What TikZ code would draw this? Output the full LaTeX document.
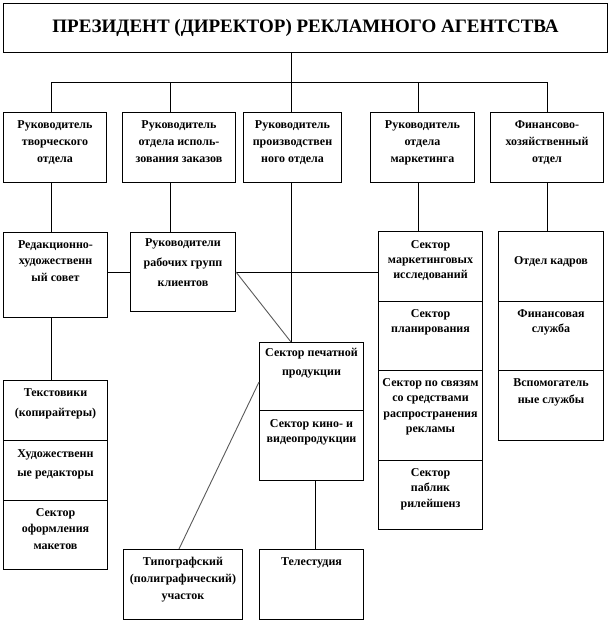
\documentclass[tikz,border=0pt]{standalone}
\usepackage{fontspec}
\setmainfont{Liberation Serif}
\tikzset{
  box/.style={draw, line width=1pt, inner sep=0pt, anchor=north west,
    font=\bfseries\fontsize{12}{16}\selectfont},
  conn/.style={line width=1pt},
  diag/.style={line width=0.9pt, black!65},
}
% #1 name, #2 x1, #3 y1, #4 x2, #5 y2, #6 top offset, #7 line skip, #8 text
\newcommand{\orgbox}[8]{%
  \pgfmathsetmacro\bw{#4-#2}\pgfmathsetmacro\bh{#5-#3}%
  \node[box, minimum width=\bw pt, minimum height=\bh pt] (#1) at (#2,#3)
    {\parbox[c][\bh pt][t]{\bw pt}{\centering\baselineskip=#7pt\relax\vspace*{#6pt}#8\par}};}
\begin{document}
\begin{tikzpicture}[x=1pt, y=-1pt]
\useasboundingbox (0,0) rectangle (614,622);
% title
\node[draw, line width=1pt, inner sep=0pt, minimum width=604pt, minimum height=49pt,
  anchor=north west, font=\bfseries\fontsize{19}{22}\selectfont] (title) at (3,3)
  {ПРЕЗИДЕНТ (ДИРЕКТОР) РЕКЛАМНОГО АГЕНТСТВА};
% row 1
\orgbox{r1}{3}{112}{106}{182}{8}{17}{Руководитель\\творческого\\отдела}
\orgbox{r2}{122}{112}{235}{182}{8}{17}{Руководитель\\отдела исполь-\\зования заказов}
\orgbox{r3}{243}{112}{341}{182}{8}{17}{Руководитель\\производствен\\ного отдела}
\orgbox{r4}{370}{112}{474}{182}{8}{17}{Руководитель\\отдела\\маркетинга}
\orgbox{r5}{490}{112}{603}{182}{8}{17}{Финансово-\\хозяйственный\\отдел}
% row 2
\orgbox{red}{3}{232}{107}{317}{8}{16.5}{Редакционно-\\художественн\\ый совет}
\orgbox{grp}{130}{232}{235}{311}{6}{20}{Руководители\\рабочих групп\\клиентов}
\orgbox{mres}{378}{231}{482}{301}{9}{15}{Сектор\\маркетинговых\\исследований}
\orgbox{kadr}{498}{231}{603}{301}{25}{15}{Отдел кадров}
% marketing column
\orgbox{plan}{378}{301}{482}{370}{8}{15}{Сектор\\планирования}
\orgbox{smi}{378}{370}{482}{460}{8}{15.5}{Сектор по связям\\со средствами\\распространения\\рекламы}
\orgbox{pr}{378}{460}{482}{529}{8}{15.5}{Сектор\\паблик\\рилейшенз}
% finance column
\orgbox{fin}{498}{301}{603}{370}{8}{15}{Финансовая\\служба}
\orgbox{vsp}{498}{370}{603}{440}{8}{17}{Вспомогатель\\ные службы}
% creative column
\orgbox{tekst}{3}{380}{107}{440}{8}{20}{Текстовики\\(копирайтеры)}
\orgbox{hud}{3}{440}{107}{500}{9}{19}{Художественн\\ые редакторы}
\orgbox{oform}{3}{500}{107}{569}{8}{16.5}{Сектор\\оформления\\макетов}
% production
\orgbox{pech}{259}{342}{363}{410}{6}{19}{Сектор печатной\\продукции}
\orgbox{kino}{259}{410}{363}{480}{9}{15}{Сектор кино- и\\видеопродукции}
\orgbox{tipo}{123}{549}{242}{619}{8}{17}{Типографский\\(полиграфический)\\участок}
\orgbox{tele}{259}{549}{363}{619}{8}{17}{Телестудия}
% guide coordinates
\coordinate (v1) at (51,0);
\coordinate (v2) at (170,0);
\coordinate (v3) at (291,0);
\coordinate (v4) at (418,0);
\coordinate (v5) at (547,0);
\coordinate (v6) at (179,0);
\coordinate (v7) at (315,0);
\coordinate (bus) at (0,82);
\coordinate (hz) at (0,272);
\coordinate (dg) at (0,382);
% connectors
\draw[conn] (v3 |- title.south) -- (v3 |- r3.north);
\draw[conn] (v1 |- r1.north) |- (v5 |- bus) -- (v5 |- r5.north);
\draw[conn] (v2 |- bus) -- (v2 |- r2.north);
\draw[conn] (v4 |- bus) -- (v4 |- r4.north);
\draw[conn] (v1 |- r1.south) -- (v1 |- red.north);
\draw[conn] (v1 |- red.south) -- (v1 |- tekst.north);
\draw[conn] (v2 |- r2.south) -- (v2 |- grp.north);
\draw[conn] (v3 |- r3.south) -- (v3 |- pech.north);
\draw[conn] (v4 |- r4.south) -- (v4 |- mres.north);
\draw[conn] (v5 |- r5.south) -- (v5 |- kadr.north);
\draw[conn] (red.east |- hz) -- (grp.west |- hz);
\draw[conn] (grp.east |- hz) -- (mres.west |- hz);
\draw[diag] (grp.east |- hz) -- (v3 |- pech.north);
\draw[diag] (v6 |- tipo.north) -- (pech.west |- dg);
\draw[conn] (v7 |- kino.south) -- (v7 |- tele.north);
\end{tikzpicture}
\end{document}
